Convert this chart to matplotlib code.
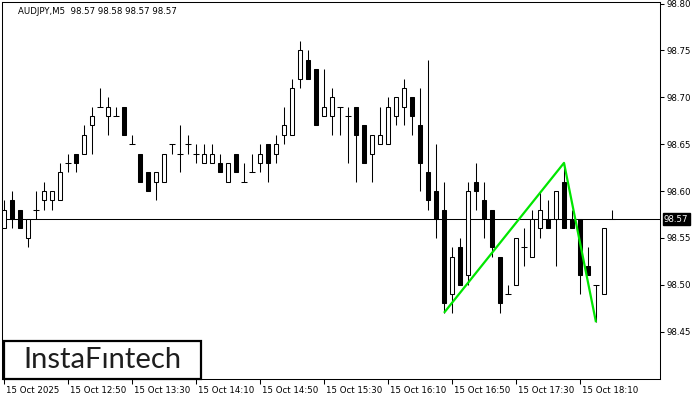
import matplotlib
matplotlib.use("Agg")
import matplotlib.pyplot as plt
from matplotlib.patches import Rectangle
import matplotlib.transforms as mtransforms

# ---------------- data ----------------
opens = [98.56, 98.59, 98.58, 98.55, 98.58, 98.59, 98.59, 98.59, 98.63, 98.64,
         98.64, 98.67, 98.69, 98.68, 98.68, 98.69, 98.65, 98.64, 98.62, 98.61,
         98.61, 98.65, 98.64, 98.65, 98.64, 98.63, 98.63, 98.63, 98.61, 98.64,
         98.61, 98.62, 98.63, 98.65, 98.64, 98.66, 98.66, 98.72, 98.74, 98.73,
         98.68, 98.68, 98.69, 98.68, 98.69, 98.67, 98.64, 98.65, 98.65, 98.68,
         98.69, 98.70, 98.67, 98.62, 98.60, 98.58, 98.49, 98.54, 98.51, 98.61,
         98.59, 98.58, 98.53, 98.49, 98.50, 98.54, 98.53, 98.56, 98.57, 98.57,
         98.61, 98.57, 98.57, 98.52, 98.50, 98.49, 98.57]
highs = [98.59, 98.60, 98.58, 98.57, 98.60, 98.61, 98.60, 98.63, 98.64, 98.64,
         98.67, 98.69, 98.71, 98.70, 98.69, 98.69, 98.66, 98.64, 98.62, 98.62,
         98.64, 98.65, 98.67, 98.66, 98.65, 98.65, 98.65, 98.64, 98.63, 98.64,
         98.63, 98.64, 98.65, 98.65, 98.66, 98.69, 98.72, 98.76, 98.75, 98.73,
         98.73, 98.71, 98.69, 98.69, 98.69, 98.67, 98.66, 98.69, 98.70, 98.70,
         98.72, 98.70, 98.71, 98.74, 98.65, 98.61, 98.54, 98.55, 98.61, 98.63,
         98.61, 98.58, 98.53, 98.50, 98.55, 98.56, 98.58, 98.60, 98.59, 98.60,
         98.63, 98.58, 98.57, 98.54, 98.50, 98.56, 98.58]
lows = [98.56, 98.56, 98.56, 98.54, 98.57, 98.58, 98.58, 98.59, 98.62, 98.62,
        98.64, 98.64, 98.69, 98.66, 98.68, 98.66, 98.65, 98.61, 98.60, 98.59,
        98.61, 98.64, 98.62, 98.64, 98.63, 98.63, 98.63, 98.62, 98.61, 98.62,
        98.61, 98.62, 98.62, 98.61, 98.63, 98.65, 98.66, 98.71, 98.72, 98.67,
        98.68, 98.66, 98.66, 98.63, 98.61, 98.63, 98.61, 98.65, 98.65, 98.67,
        98.67, 98.66, 98.60, 98.58, 98.55, 98.47, 98.47, 98.50, 98.50, 98.58,
        98.55, 98.53, 98.47, 98.49, 98.50, 98.52, 98.53, 98.55, 98.56, 98.52,
        98.56, 98.56, 98.49, 98.51, 98.46, 98.49, 98.57]
closes = [98.58, 98.57, 98.56, 98.57, 98.58, 98.60, 98.60, 98.62, 98.63, 98.63,
          98.66, 98.68, 98.69, 98.69, 98.68, 98.66, 98.65, 98.61, 98.60, 98.62,
          98.64, 98.65, 98.64, 98.65, 98.64, 98.64, 98.64, 98.62, 98.63, 98.62,
          98.61, 98.62, 98.64, 98.63, 98.65, 98.67, 98.71, 98.75, 98.72, 98.67,
          98.69, 98.70, 98.69, 98.68, 98.66, 98.63, 98.66, 98.66, 98.69, 98.70,
          98.71, 98.68, 98.63, 98.59, 98.57, 98.48, 98.53, 98.50, 98.60, 98.60,
          98.57, 98.54, 98.48, 98.49, 98.55, 98.54, 98.57, 98.58, 98.56, 98.60,
          98.56, 98.56, 98.51, 98.51, 98.50, 98.56, 98.57]

x_tick_idx = [0, 8, 16, 24, 32, 40, 48, 56, 64, 72]
x_tick_labels = ["15 Oct 2025", "15 Oct 12:50", "15 Oct 13:30", "15 Oct 14:10",
                 "15 Oct 14:50", "15 Oct 15:30", "15 Oct 16:10", "15 Oct 16:50",
                 "15 Oct 17:30", "15 Oct 18:10"]
y_ticks = [98.45, 98.50, 98.55, 98.60, 98.65, 98.70, 98.75, 98.80]
current_price = 98.57
title_text = "AUDJPY,M5  98.57 98.58 98.57 98.57"
pattern_idx = [55, 70, 74]          # low, high, low of the pattern
logo_text = "InstaF\u0131ntech"

# ---------------- figure ----------------
W, H = 700, 400
fig = plt.figure(figsize=(W / 100, H / 100), dpi=100)
fig.patch.set_facecolor("white")
left_px, right_px, top_px, bot_px = 2, 660, 2, 379
ax = fig.add_axes([left_px / W, 1 - bot_px / H, (right_px - left_px) / W, (bot_px - top_px) / H])
ax.set_facecolor("white")

LW = 0.75
n = len(opens)
bw = 0.55
for i in range(n):
    o, h, l, c = opens[i], highs[i], lows[i], closes[i]
    ax.vlines(i, l, h, color="black", lw=LW, zorder=2)
    if abs(c - o) < 1e-9:
        ax.hlines(o, i - bw / 2 - 0.05, i + bw / 2 + 0.05, color="black", lw=LW, zorder=3)
    else:
        bottom = min(o, c)
        fc = "white" if c > o else "black"
        ax.add_patch(Rectangle((i - bw / 2, bottom), bw, abs(c - o),
                               facecolor=fc, edgecolor="black", lw=LW, zorder=3))

ax.axhline(current_price, color="black", lw=LW, zorder=1)

px = [pattern_idx[0], pattern_idx[1], pattern_idx[2]]
py = [lows[pattern_idx[0]], highs[pattern_idx[1]], lows[pattern_idx[2]]]
ax.plot(px, py, color="#00e600", lw=1.6, zorder=5, solid_capstyle="butt")

ax.set_xlim(-0.25, 82.0)
ax.set_ylim(98.3994, 98.8017)

for sp in ax.spines.values():
    sp.set_linewidth(LW)
    sp.set_color("black")

ax.yaxis.tick_right()
ax.set_yticks(y_ticks)
ax.set_yticklabels([f"{v:.2f}" for v in y_ticks])
ax.tick_params(axis="y", direction="out", length=3, width=LW, pad=2,
               labelsize=6.2, colors="black")

ax.set_xticks(x_tick_idx)
ax.set_xticklabels(x_tick_labels, ha="left")
ax.tick_params(axis="x", direction="out", length=3.5, width=LW, pad=1.5,
               labelsize=6.2, colors="black")
offset = mtransforms.ScaledTranslation(1.5 / 100, 0, fig.dpi_scale_trans)
for lab in ax.get_xticklabels():
    lab.set_transform(lab.get_transform() + offset)

# current price label
ax.text(1 + 4 / 658, current_price, f"{current_price:.2f}",
        transform=ax.get_yaxis_transform(), ha="left", va="center",
        fontsize=6.2, color="white", zorder=10, clip_on=False,
        bbox=dict(boxstyle="square,pad=0.15", facecolor="black", edgecolor="black"))

# title
fig.text(18 / W, 1 - 11 / H, title_text, ha="left", va="center", fontsize=6.2, color="black")

# logo
fig.patches.append(Rectangle((3.5 / W, 1 - 379 / H), (201 - 3.5) / W, (379 - 341) / H,
                             transform=fig.transFigure, facecolor="white",
                             edgecolor="black", lw=1.6, zorder=10))
fig.text(102 / W, 1 - 360 / H, logo_text, ha="center", va="center",
         fontsize=21, family="Lato", color="#1e1e1e", zorder=11)

fig.savefig("out.png", dpi=100)
